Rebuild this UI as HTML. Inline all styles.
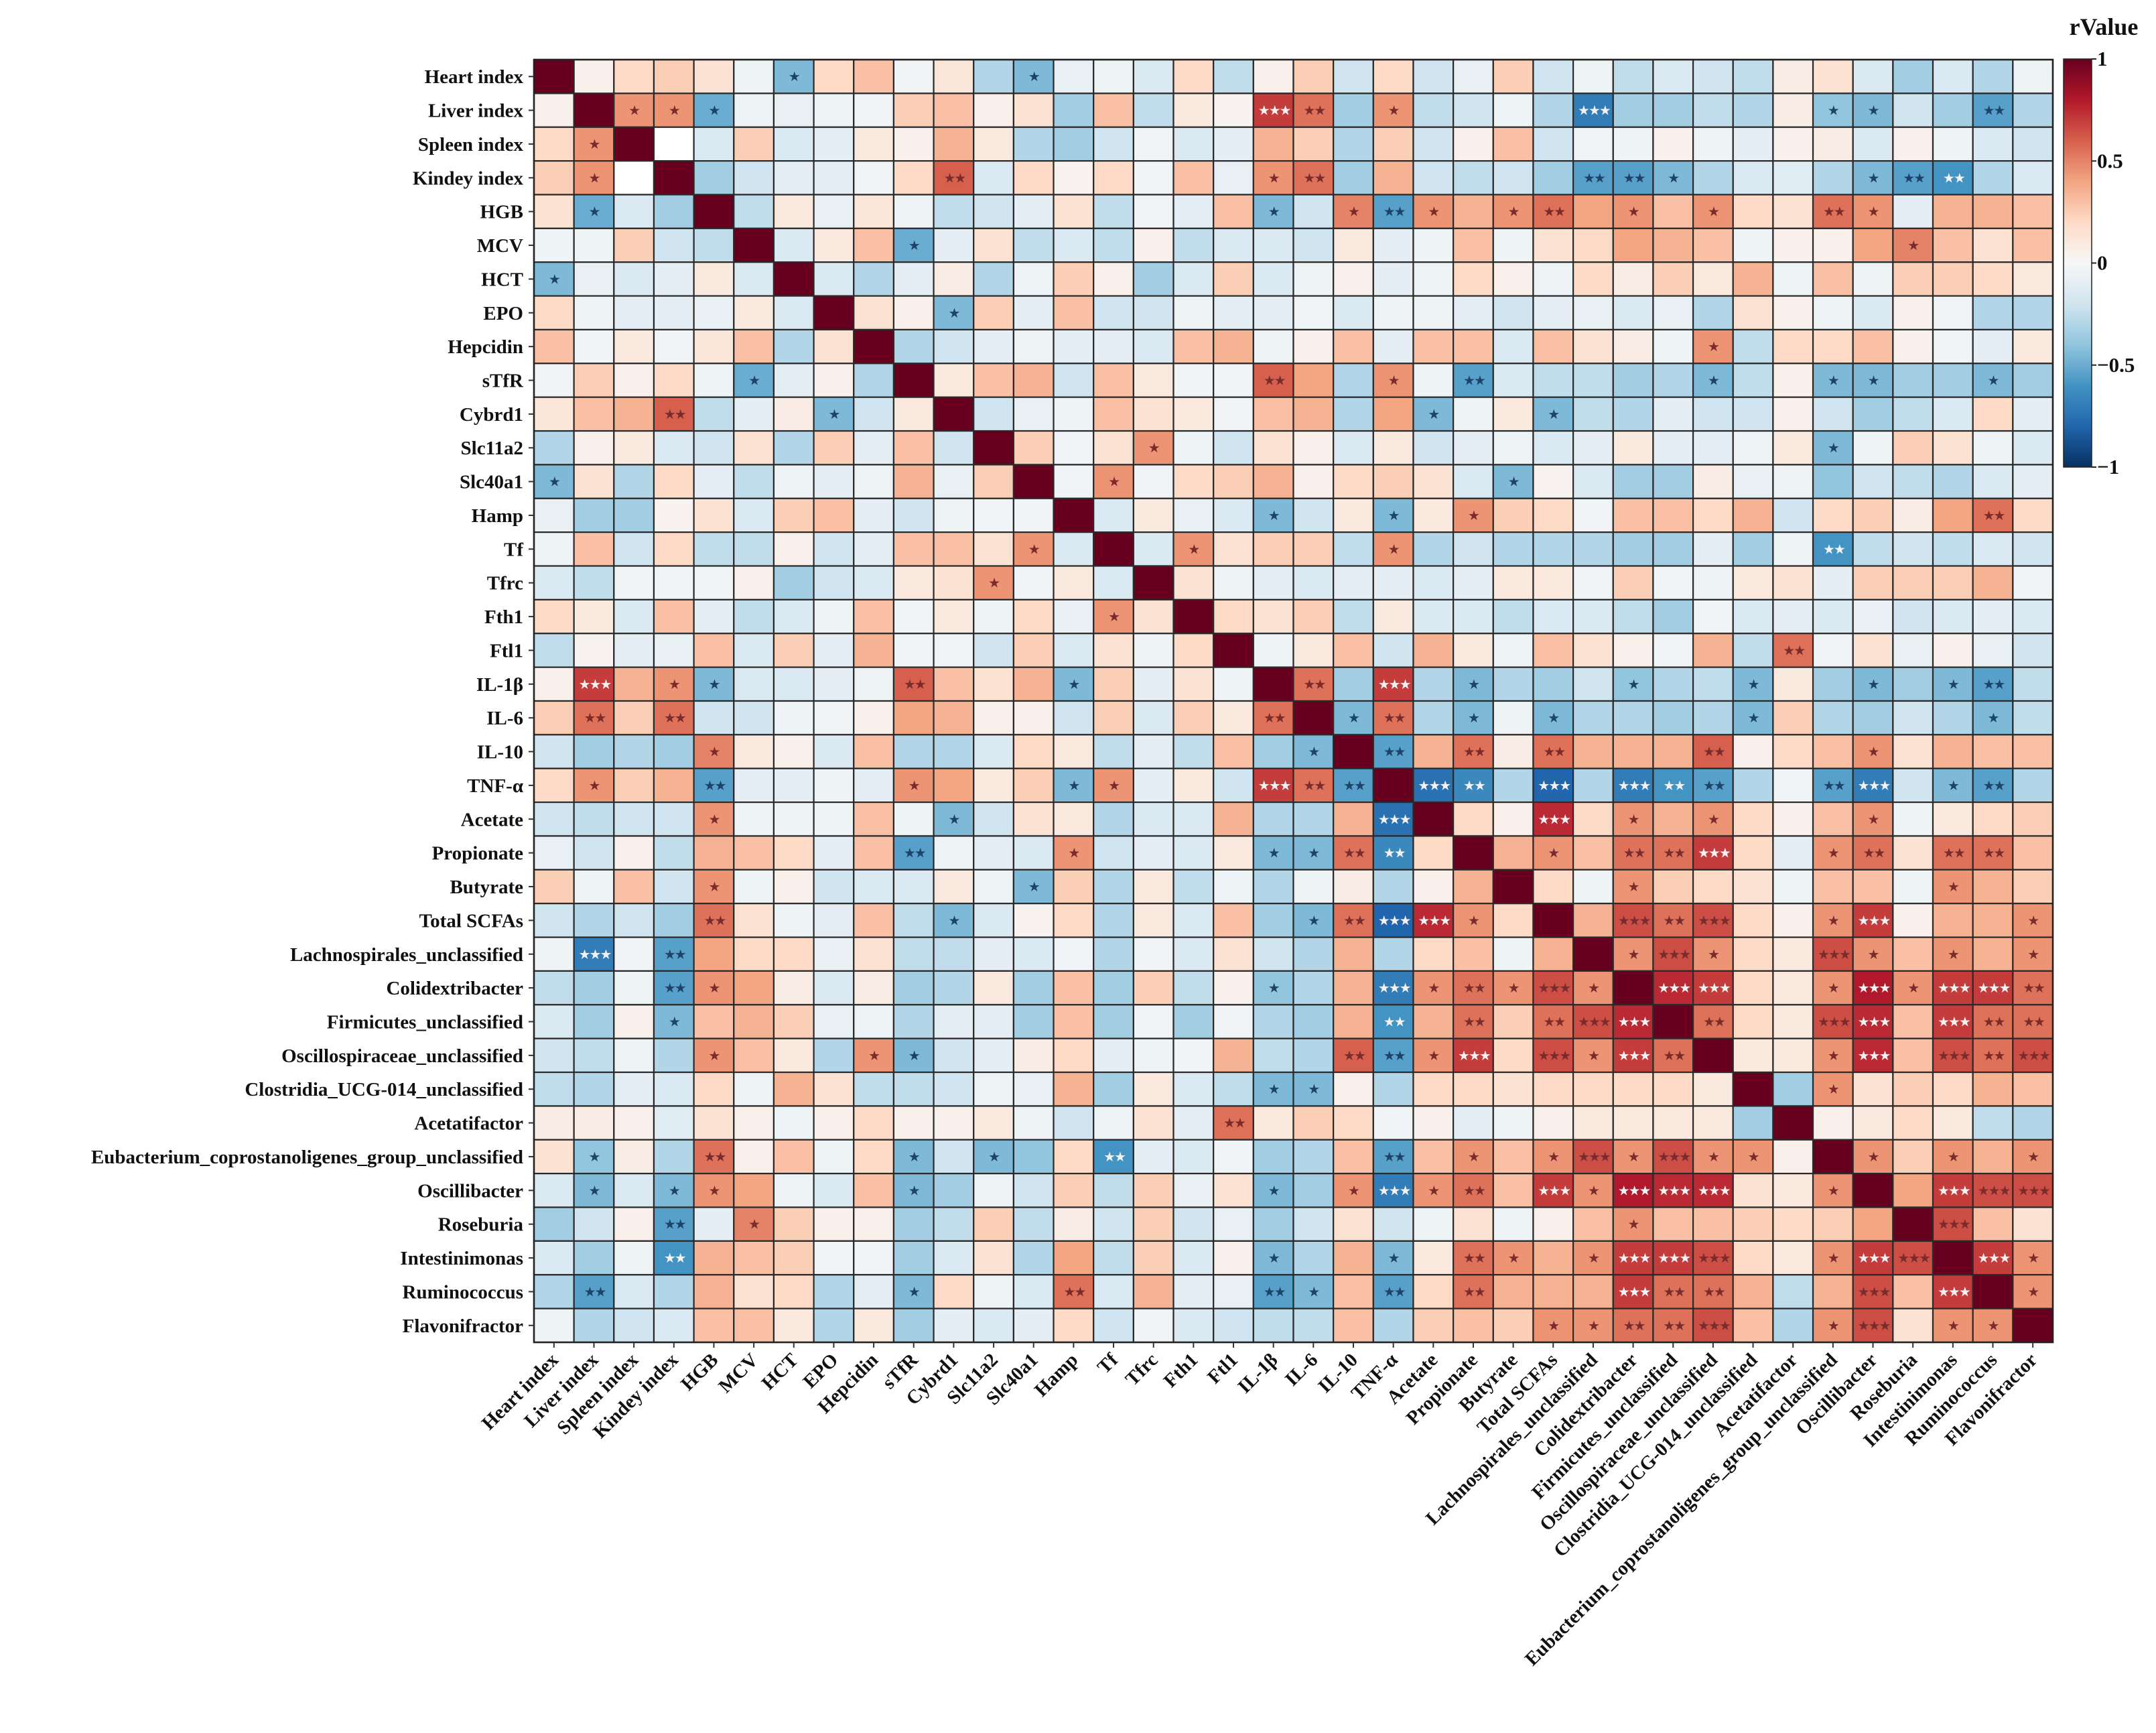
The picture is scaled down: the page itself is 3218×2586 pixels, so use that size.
<!DOCTYPE html>
<html><head><meta charset="utf-8"><title>Correlation heatmap</title>
<style>
html,body{margin:0;padding:0;background:#fff;}
svg{display:block;}
.lab{font-family:"Liberation Serif",serif;font-weight:bold;font-size:29px;fill:#111;}
.cb{font-family:"Liberation Serif",serif;font-weight:bold;font-size:31px;fill:#111;}
.st{font-family:"DejaVu Sans",sans-serif;font-size:20px;}
</style></head>
<body>
<svg id="chart" xmlns="http://www.w3.org/2000/svg" width="3218" height="2586" viewBox="0 0 3218 2586">
  <g id="cells"></g>
  <g id="stars"></g>
  <g id="ylabels"></g>
  <g id="xlabels"></g>
  <g id="colorbar">
    <defs>
      <linearGradient id="cbgrad" x1="0" y1="0" x2="0" y2="1">
        <stop offset="0" stop-color="#67001f"/><stop offset="0.1" stop-color="#b2182b"/>
        <stop offset="0.2" stop-color="#d6604d"/><stop offset="0.3" stop-color="#f4a582"/>
        <stop offset="0.4" stop-color="#fddbc7"/><stop offset="0.5" stop-color="#f7f7f7"/>
        <stop offset="0.6" stop-color="#d1e5f0"/><stop offset="0.7" stop-color="#92c5de"/>
        <stop offset="0.8" stop-color="#4393c3"/><stop offset="0.9" stop-color="#2166ac"/>
        <stop offset="1" stop-color="#053061"/>
      </linearGradient>
    </defs>
    <rect x="3080" y="88" width="42" height="609" fill="url(#cbgrad)" stroke="#222" stroke-width="1.5"/>
    <text class="cb" x="3140" y="52" text-anchor="middle" style="font-size:36px">rValue</text>
  </g>
</svg>
<script>
const rowLabels = ["Heart index","Liver index","Spleen index","Kindey index","HGB","MCV","HCT","EPO","Hepcidin","sTfR","Cybrd1","Slc11a2","Slc40a1","Hamp","Tf","Tfrc","Fth1","Ftl1","IL-1β","IL-6","IL-10","TNF-α","Acetate","Propionate","Butyrate","Total SCFAs","Lachnospirales_unclassified","Colidextribacter","Firmicutes_unclassified","Oscillospiraceae_unclassified","Clostridia_UCG-014_unclassified","Acetatifactor","Eubacterium_coprostanoligenes_group_unclassified","Oscillibacter","Roseburia","Intestinimonas","Ruminococcus","Flavonifractor"];

const upperR = [
[0.05,0.2,0.25,0.15,-0.05,-0.45,0.2,0.3,-0.03,0.12,-0.3,-0.45,-0.08,-0.05,-0.15,0.2,-0.25,0.05,0.25,-0.2,0.2,-0.2,-0.08,0.25,-0.2,-0.05,-0.25,-0.15,-0.2,-0.25,0.08,0.15,-0.15,-0.35,-0.15,-0.3,-0.05],
[0.45,0.45,-0.5,-0.05,-0.08,-0.05,-0.03,0.25,0.3,0.05,0.15,-0.35,0.3,-0.25,0.1,0.03,0.7,0.55,-0.35,0.45,-0.25,-0.2,-0.05,-0.3,-0.7,-0.35,-0.35,-0.25,-0.3,0.08,-0.4,-0.45,-0.2,-0.35,-0.55,-0.3],
[0,-0.15,0.25,-0.15,-0.1,0.1,0.05,0.35,0.1,-0.3,-0.35,-0.2,-0.03,-0.15,-0.1,0.35,0.25,-0.3,0.25,-0.2,0.05,0.3,-0.2,-0.03,-0.05,0.05,-0.05,-0.1,0.05,0.08,-0.15,0.05,-0.05,-0.15,-0.2],
[-0.35,-0.2,-0.1,-0.1,-0.03,0.2,0.6,-0.15,0.2,0.03,0.2,-0.03,0.3,-0.08,0.45,0.55,-0.35,0.35,-0.2,-0.25,-0.2,-0.35,-0.55,-0.55,-0.45,-0.3,-0.15,-0.12,-0.3,-0.45,-0.55,-0.6,-0.3,-0.15],
[-0.25,0.1,-0.08,0.12,-0.05,-0.25,-0.2,-0.1,0.15,-0.25,-0.03,-0.1,0.3,-0.45,-0.2,0.5,-0.55,0.45,0.35,0.45,0.55,0.4,0.45,0.3,0.45,0.2,0.15,0.55,0.45,-0.1,0.35,0.35,0.3],
[-0.15,0.1,0.3,-0.5,-0.1,0.15,-0.25,-0.15,-0.25,0.05,-0.25,-0.15,-0.15,-0.2,0.1,-0.1,-0.05,0.3,-0.05,0.15,0.2,0.4,0.35,0.3,-0.05,0.05,0.05,0.4,0.5,0.3,0.15,0.3],
[-0.15,-0.3,-0.1,0.08,-0.3,-0.05,0.25,0.05,-0.35,-0.15,0.25,-0.15,-0.05,0.05,-0.1,-0.05,0.2,0.05,-0.05,0.2,0.08,0.25,0.1,0.35,-0.05,0.3,-0.05,0.25,0.25,0.2,0.1],
[0.15,0.05,-0.45,0.25,-0.1,0.3,-0.2,-0.2,-0.05,-0.1,-0.1,-0.03,-0.15,-0.05,-0.05,-0.1,-0.2,-0.1,-0.08,-0.15,-0.08,-0.3,0.15,0.05,-0.05,-0.15,0.05,-0.03,-0.3,-0.3],
[-0.3,-0.2,-0.1,-0.05,-0.1,-0.1,-0.15,0.3,0.35,-0.05,0.05,0.3,-0.1,0.3,0.3,-0.15,0.3,0.15,0.08,-0.05,0.45,-0.25,0.2,0.2,0.3,0.05,-0.03,-0.1,0.1],
[0.1,0.3,0.35,-0.2,0.3,0.1,-0.03,-0.03,0.6,0.4,-0.3,0.45,-0.05,-0.55,-0.15,-0.25,-0.25,-0.35,-0.3,-0.45,-0.25,0.05,-0.45,-0.45,-0.35,-0.35,-0.45,-0.35],
[-0.2,-0.08,-0.05,0.3,0.15,0.1,-0.03,0.3,0.35,-0.3,0.4,-0.45,-0.05,0.1,-0.45,-0.25,-0.3,-0.1,-0.2,-0.2,0.05,-0.2,-0.35,-0.25,-0.15,0.2,-0.1],
[0.25,-0.03,0.15,0.45,-0.05,-0.2,0.15,0.05,-0.15,0.1,-0.2,-0.1,-0.05,-0.15,-0.1,0.1,-0.1,-0.1,-0.05,0.1,-0.45,-0.05,0.25,0.15,-0.05,-0.15],
[-0.03,0.45,-0.03,0.2,0.25,0.35,0.05,0.2,0.25,0.15,-0.15,-0.45,0.03,-0.15,-0.35,-0.35,0.08,-0.08,-0.05,-0.4,-0.2,-0.25,-0.3,-0.15,-0.1],
[-0.15,0.1,-0.08,-0.15,-0.45,-0.2,0.1,-0.45,0.1,0.45,0.25,0.2,-0.03,0.3,0.3,0.2,0.35,-0.2,0.2,0.25,0.08,0.4,0.55,0.2],
[-0.15,0.45,0.15,0.25,0.25,-0.25,0.45,-0.3,-0.2,-0.3,-0.3,-0.3,-0.35,-0.35,-0.1,-0.35,-0.05,-0.6,-0.25,-0.2,-0.25,-0.15,-0.2],
[0.15,-0.05,-0.1,-0.15,-0.1,-0.1,-0.15,-0.1,0.1,0.1,-0.03,0.25,-0.03,-0.05,0.1,0.15,-0.1,0.25,0.25,0.25,0.35,-0.03],
[0.2,0.15,0.25,-0.25,0.1,-0.15,-0.15,-0.25,-0.15,-0.15,-0.25,-0.35,-0.03,-0.15,-0.1,-0.15,-0.08,-0.2,-0.15,-0.1,-0.15],
[-0.05,0.1,0.3,-0.2,0.35,0.1,-0.05,0.3,0.15,0.05,-0.03,0.35,-0.25,0.55,-0.03,0.15,-0.08,0.05,-0.08,-0.2],
[0.55,-0.35,0.7,-0.3,-0.45,-0.3,-0.35,-0.2,-0.4,-0.3,-0.25,-0.45,0.1,-0.35,-0.45,-0.35,-0.45,-0.55,-0.25],
[-0.45,0.55,-0.3,-0.45,-0.05,-0.45,-0.3,-0.3,-0.35,-0.3,-0.45,0.25,-0.3,-0.35,-0.2,-0.3,-0.45,-0.25],
[-0.55,0.35,0.55,0.08,0.55,0.35,0.35,0.35,0.6,0.05,0.2,0.3,0.45,0.15,0.35,0.3,0.3],
[-0.75,-0.65,-0.3,-0.8,-0.3,-0.7,-0.6,-0.55,-0.3,-0.03,-0.55,-0.7,-0.2,-0.45,-0.55,-0.3],
[0.2,0.05,0.75,0.2,0.45,0.35,0.45,0.2,0.05,0.3,0.45,-0.05,0.1,0.2,0.25],
[0.35,0.45,0.3,0.55,0.55,0.7,0.2,-0.1,0.45,0.55,0.15,0.55,0.55,0.3],
[0.2,-0.05,0.45,0.25,0.2,0.15,-0.05,0.3,0.3,-0.05,0.45,0.35,0.25],
[0.35,0.65,0.55,0.65,0.2,0.05,0.45,0.7,0.05,0.35,0.35,0.45],
[0.45,0.65,0.45,0.2,0.1,0.65,0.45,0.3,0.45,0.35,0.45],
[0.75,0.7,0.2,0.1,0.45,0.8,0.45,0.7,0.7,0.55],
[0.55,0.2,0.1,0.65,0.75,0.3,0.7,0.55,0.55],
[0.1,0.1,0.45,0.75,0.3,0.65,0.55,0.65],
[-0.35,0.45,0.15,0.25,0.2,0.35,0.3],
[0.05,0.1,0.2,0.1,-0.25,-0.3],
[0.45,0.25,0.45,0.35,0.45],
[0.4,0.7,0.65,0.65],
[0.65,0.3,0.15],
[0.7,0.45],
[0.45]
];

// [row, col, number of stars] (upper triangle; mirrored)
const sigMarks = [
[0,6,1],[0,12,1],
[1,2,1],[1,3,1],[1,4,1],[1,18,3],[1,19,2],[1,21,1],[1,26,3],[1,32,1],[1,33,1],[1,36,2],
[3,10,2],[3,18,1],[3,19,2],[3,26,2],[3,27,2],[3,28,1],[3,33,1],[3,34,2],[3,35,2],
[4,18,1],[4,20,1],[4,21,2],[4,22,1],[4,24,1],[4,25,2],[4,27,1],[4,29,1],[4,32,2],[4,33,1],
[5,9,1],[5,34,1],[7,10,1],[8,29,1],
[9,18,2],[9,21,1],[9,23,2],[9,29,1],[9,32,1],[9,33,1],[9,36,1],
[10,22,1],[10,25,1],[11,15,1],[11,32,1],[12,14,1],[12,24,1],
[13,18,1],[13,21,1],[13,23,1],[13,36,2],[14,16,1],[14,21,1],[14,32,2],[17,31,2],
[18,19,2],[18,21,3],[18,23,1],[18,27,1],[18,30,1],[18,33,1],[18,35,1],[18,36,2],
[19,20,1],[19,21,2],[19,23,1],[19,25,1],[19,30,1],[19,36,1],
[20,21,2],[20,23,2],[20,25,2],[20,29,2],[20,33,1],
[21,22,3],[21,23,2],[21,25,3],[21,27,3],[21,28,2],[21,29,2],[21,32,2],[21,33,3],[21,35,1],[21,36,2],
[22,25,3],[22,27,1],[22,29,1],[22,33,1],
[23,25,1],[23,27,2],[23,28,2],[23,29,3],[23,32,1],[23,33,2],[23,35,2],[23,36,2],
[24,27,1],[24,35,1],
[25,27,3],[25,28,2],[25,29,3],[25,32,1],[25,33,3],[25,37,1],
[26,27,1],[26,28,3],[26,29,1],[26,32,3],[26,33,1],[26,35,1],[26,37,1],
[27,28,3],[27,29,3],[27,32,1],[27,33,3],[27,34,1],[27,35,3],[27,36,3],[27,37,2],
[28,29,2],[28,32,3],[28,33,3],[28,35,3],[28,36,2],[28,37,2],
[29,32,1],[29,33,3],[29,35,3],[29,36,2],[29,37,3],
[30,32,1],[32,33,1],[32,35,1],[32,37,1],
[33,35,3],[33,36,3],[33,37,3],[34,35,3],[35,36,3],[35,37,1],[36,37,1]
];

const cbTicks = [1,0.5,0,-0.5,-1];
const cbTickText = ["1","0.5","0","\u22120.5","\u22121"];

const NS = "http://www.w3.org/2000/svg";
const N = rowLabels.length;
const X0 = 797, X1 = 3064, Y0 = 89, Y1 = 2003;
const CW = (X1 - X0) / N, CH = (Y1 - Y0) / N;
const xPos = i => X0 + i * CW;
const yPos = i => Y0 + i * CH;

const stops = [[-1,[5,48,97]],[-0.8,[33,102,172]],[-0.6,[67,147,195]],[-0.4,[146,197,222]],[-0.2,[209,229,240]],[0,[247,247,247]],[0.2,[253,219,199]],[0.4,[244,165,130]],[0.6,[214,96,77]],[0.8,[178,24,43]],[1,[103,0,31]]];
function colorOf(v){
  v = Math.max(-1, Math.min(1, v));
  for (let k = 0; k < stops.length - 1; k++){
    const a = stops[k], b = stops[k+1];
    if (v >= a[0] && v <= b[0]){
      const t = (v - a[0]) / (b[0] - a[0]);
      const c = a[1].map((x, i) => Math.round(x + (b[1][i] - x) * t));
      return "rgb(" + c.join(",") + ")";
    }
  }
  return "#fff";
}

const M = [];
for (let i = 0; i < N; i++){ M.push(new Array(N).fill(0)); M[i][i] = 1; }
for (let i = 0; i < upperR.length; i++){
  for (let k = 0; k < upperR[i].length; k++){
    const j = i + 1 + k;
    M[i][j] = upperR[i][k];
    M[j][i] = upperR[i][k];
  }
}

const cellsG = document.getElementById("cells");
for (let i = 0; i < N; i++){
  for (let j = 0; j < N; j++){
    const r = document.createElementNS(NS, "rect");
    r.setAttribute("x", xPos(j)); r.setAttribute("y", yPos(i));
    r.setAttribute("width", CW); r.setAttribute("height", CH);
    r.setAttribute("fill", (M[i][j] === 0 && i !== j) ? "#ffffff" : colorOf(M[i][j]));
    r.setAttribute("stroke", "#2a2a2a"); r.setAttribute("stroke-width", "2.2");
    
    
    cellsG.appendChild(r);
  }
}
const border = document.createElementNS(NS, "rect");
border.setAttribute("x", X0); border.setAttribute("y", Y0);
border.setAttribute("width", X1 - X0); border.setAttribute("height", Y1 - Y0);
border.setAttribute("fill", "none"); border.setAttribute("stroke", "#222"); border.setAttribute("stroke-width", "2.5");


cellsG.appendChild(border);

const starsG = document.getElementById("stars");
function addStars(i, j, n){
  const v = M[i][j];
  let col;
  if ((v > 0 && v >= 0.68) || (v < 0 && v <= -0.58)) col = "#f2f2f2";
  else col = v > 0 ? "#7a2c2c" : "#1d4468";
  const t = document.createElementNS(NS, "text");
  t.setAttribute("x", xPos(j) + CW / 2 + (n > 1 ? 1 : 0)); t.setAttribute("y", yPos(i) + CH / 2 + 7);
  t.setAttribute("text-anchor", "middle"); t.setAttribute("class", "st");
  t.setAttribute("fill", col);
  t.setAttribute("letter-spacing", "-2");
  t.textContent = "\u2605".repeat(n);
  
  
  starsG.appendChild(t);
}
sigMarks.forEach(m => { addStars(m[0], m[1], m[2]); addStars(m[1], m[0], m[2]); });

const yG = document.getElementById("ylabels");
const xG = document.getElementById("xlabels");
for (let i = 0; i < N; i++){
  const cy = yPos(i) + CH / 2;
  const tk = document.createElementNS(NS, "line");
  tk.setAttribute("x1", X0 - 8); tk.setAttribute("x2", X0); tk.setAttribute("y1", cy); tk.setAttribute("y2", cy);
  tk.setAttribute("stroke", "#333"); tk.setAttribute("stroke-width", "2");
  
  
  yG.appendChild(tk);
  const t = document.createElementNS(NS, "text");
  t.setAttribute("x", X0 - 16); t.setAttribute("y", cy + 10);
  t.setAttribute("text-anchor", "end"); t.setAttribute("class", "lab");
  t.textContent = rowLabels[i];
  
  
  yG.appendChild(t);

  const cx = xPos(i) + CW / 2;
  const tx = document.createElementNS(NS, "line");
  tx.setAttribute("x1", cx); tx.setAttribute("x2", cx); tx.setAttribute("y1", Y1); tx.setAttribute("y2", Y1 + 8);
  tx.setAttribute("stroke", "#333"); tx.setAttribute("stroke-width", "2");
  
  
  xG.appendChild(tx);
  const xt = document.createElementNS(NS, "text");
  const ax = cx + 8, ay = Y1 + 28;
  xt.setAttribute("x", ax); xt.setAttribute("y", ay);
  xt.setAttribute("text-anchor", "end"); xt.setAttribute("class", "lab");
  xt.setAttribute("transform", "rotate(-45 " + ax + " " + ay + ")");
  xt.textContent = rowLabels[i];
  
  
  xG.appendChild(xt);
}

const cbG = document.getElementById("colorbar");
const CBY0 = 88, CBY1 = 697, CBX = 3122;
const cbY = v => CBY0 + (1 - v) / 2 * (CBY1 - CBY0);
cbTicks.forEach((v, k) => {
  const y = cbY(v);
  const l = document.createElementNS(NS, "line");
  l.setAttribute("x1", CBX); l.setAttribute("x2", CBX + 7); l.setAttribute("y1", y); l.setAttribute("y2", y);
  l.setAttribute("stroke", "#222"); l.setAttribute("stroke-width", "2");
  
  
  cbG.appendChild(l);
  const t = document.createElementNS(NS, "text");
  t.setAttribute("x", CBX + 8); t.setAttribute("y", y + 10);
  t.setAttribute("class", "cb");
  t.textContent = cbTickText[k];
  
  
  cbG.appendChild(t);
});
</script>
</body></html>
